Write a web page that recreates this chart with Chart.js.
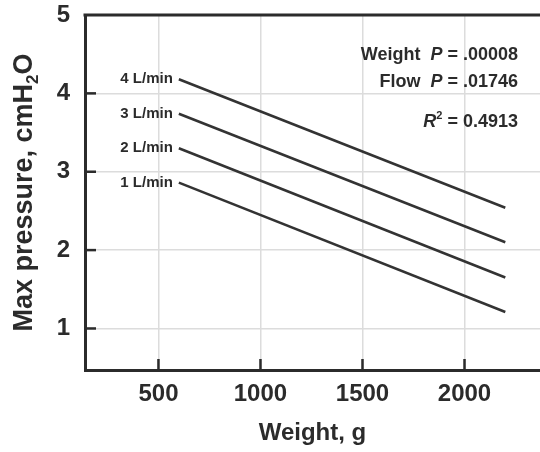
<!DOCTYPE html>
<html>
<head>
<meta charset="utf-8">
<script src="https://cdn.jsdelivr.net/npm/chart.js@4"></script>
<style>
  html, body { margin: 0; padding: 0; background: #fff; }
  #wrap { width: 540px; height: 452px; }
</style>
</head>
<body>
<div id="wrap"><canvas id="chart" width="540" height="452"></canvas></div>
<script>
// data
const weights = [600, 2200];
const flowLabels = ['4 L/min', '3 L/min', '2 L/min', '1 L/min'];
const flow4 = [4.18, 2.54];
const flow3 = [3.74, 2.10];
const flow2 = [3.30, 1.65];
const flow1 = [2.86, 1.21];
const xTicks = [500, 1000, 1500, 2000];
const yTicks = [1, 2, 3, 4, 5];
const statLines = [['Weight', '.00008'], ['Flow', '.01746']];
const rSquared = '0.4913';

const font = '"Liberation Sans", Arial, sans-serif';
const ink = '#2b2b2b';

const seriesList = [flow4, flow3, flow2, flow1];
const datasets = seriesList.map((vals, i) => ({
  label: flowLabels[i],
  data: vals.map((v, j) => ({ x: weights[j], y: v })),
  borderColor: '#333',
  borderWidth: 2.5,
  pointRadius: 0,
  fill: false
}));

const decor = {
  id: 'decor',
  afterDraw(chart) {
    const { ctx, chartArea: a, scales: { x, y } } = chart;
    ctx.save();
    // top frame
    ctx.strokeStyle = ink;
    ctx.lineWidth = 3;
    ctx.beginPath();
    ctx.moveTo(a.left - 1.5, a.top);
    ctx.lineTo(a.right, a.top);
    ctx.stroke();
    // inward tick marks
    ctx.lineWidth = 2.5;
    yTicks.slice(0, -1).forEach(v => {
      const py = y.getPixelForValue(v);
      ctx.beginPath(); ctx.moveTo(a.left, py); ctx.lineTo(a.left + 11, py); ctx.stroke();
    });
    xTicks.forEach(v => {
      const px = x.getPixelForValue(v);
      ctx.beginPath(); ctx.moveTo(px, a.bottom); ctx.lineTo(px, a.bottom - 11); ctx.stroke();
    });

    // line labels
    ctx.fillStyle = ink;
    ctx.font = 'bold 15px ' + font;
    ctx.textAlign = 'right';
    ctx.textBaseline = 'middle';
    seriesList.forEach((vals, i) => {
      ctx.fillText(flowLabels[i], x.getPixelForValue(weights[0]) - 6, y.getPixelForValue(vals[0]));
    });

    // stats text, right aligned
    const rx = a.right - 22;
    const sf = 'bold 18px ' + font, sfi = 'italic bold 18px ' + font;
    ctx.textBaseline = 'alphabetic';
    statLines.forEach((s, i) => {
      const by = a.top + 45 + i * 27;
      ctx.font = sf;
      const val = ' = ' + s[1];
      const wv = ctx.measureText(val).width;
      ctx.textAlign = 'right';
      ctx.fillText(val, rx, by);
      ctx.font = sfi;
      const wp = ctx.measureText('P').width;
      ctx.fillText('P', rx - wv, by);
      ctx.font = sf;
      ctx.fillText(s[0] + '  ', rx - wv - wp, by);
    });
    const ry = a.top + 112;
    ctx.font = sf;
    const rv = ' = ' + rSquared;
    const wr = ctx.measureText(rv).width;
    ctx.fillText(rv, rx, ry);
    ctx.font = 'bold 11px ' + font;
    const ws = ctx.measureText('2').width;
    ctx.fillText('2', rx - wr, ry - 8);
    ctx.font = sfi;
    ctx.fillText('R', rx - wr - ws, ry);

    // y title with subscript
    ctx.translate(25, (a.top + a.bottom) / 2);
    ctx.rotate(-Math.PI / 2);
    const big = 'bold 27px ' + font, small = 'bold 17px ' + font;
    ctx.font = big;
    const p1 = 'Max pressure, cmH', p3 = 'O';
    const w1 = ctx.measureText(p1).width, w3 = ctx.measureText(p3).width;
    ctx.font = small;
    const w2 = ctx.measureText('2').width;
    let sx = -(w1 + w2 + w3) / 2;
    ctx.textAlign = 'left';
    ctx.textBaseline = 'middle';
    ctx.font = big;
    ctx.fillText(p1, sx, 0);
    ctx.font = small;
    ctx.fillText('2', sx + w1, 8);
    ctx.font = big;
    ctx.fillText(p3, sx + w1 + w2, 0);
    ctx.restore();
  }
};

new Chart(document.getElementById('chart'), {
  type: 'line',
  data: { datasets },
  options: {
    responsive: false,
    animation: false,
    layout: { padding: { top: 15, right: 0, left: 0, bottom: 0 } },
    plugins: { legend: { display: false }, tooltip: { enabled: false } },
    scales: {
      x: {
        type: 'linear',
        min: 140,
        max: 2370,
        afterBuildTicks: s => { s.ticks = xTicks.map(v => ({ value: v })); },
        afterFit: s => { s.height = 82; s.paddingLeft = 0; s.paddingRight = 0; },
        grid: { color: '#dcdcdc', lineWidth: 1.5, drawTicks: false },
        border: { color: ink, width: 3 },
        ticks: { color: ink, padding: 10, callback: v => String(v), font: { family: font, size: 24, weight: 'bold' } },
        title: { display: true, text: 'Weight, g', color: ink, padding: { top: 0 }, font: { family: font, size: 24, weight: 'bold' } }
      },
      y: {
        min: 0.47,
        max: 5,
        afterBuildTicks: s => { s.ticks = yTicks.map(v => ({ value: v })); },
        afterFit: s => { s.width = 85; s.paddingTop = 0; s.paddingBottom = 0; },
        grid: { color: '#dcdcdc', lineWidth: 1.5, drawTicks: false },
        border: { color: ink, width: 3 },
        ticks: { color: ink, padding: 15, font: { family: font, size: 24, weight: 'bold' } }
      }
    }
  },
  plugins: [decor]
});
</script>
</body>
</html>
